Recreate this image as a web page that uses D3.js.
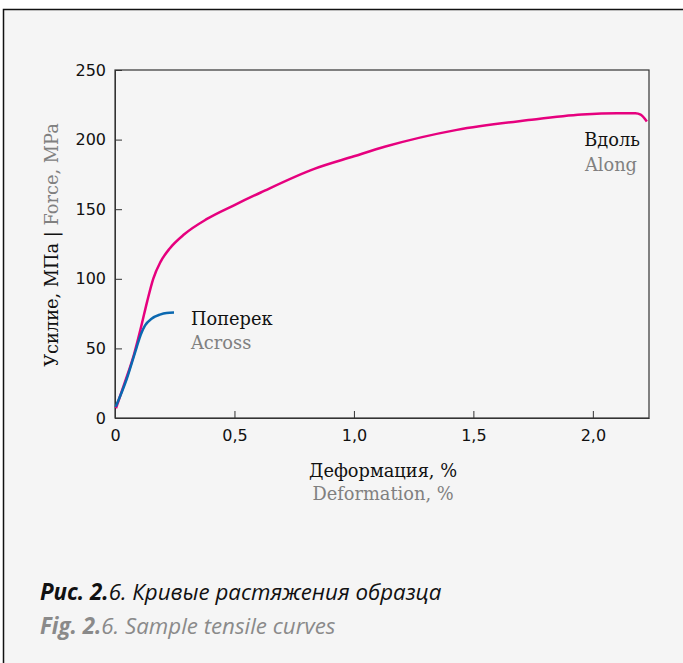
<!DOCTYPE html>
<html><head><meta charset="utf-8">
<script src="https://cdn.jsdelivr.net/npm/d3@7"></script>
<style>html,body{margin:0;padding:0;background:#fff;}svg{display:block;}</style>
</head><body>
<svg id="c" width="683" height="663"></svg>
<script>
// Data
const alongStrain = [0.004,0.04,0.08,0.11,0.135,0.16,0.19,0.23,0.29,0.385,0.5,0.61,0.834,1.0,1.132,1.431,1.73,1.954,2.1,2.178,2.2,2.226];
const alongStress = [7,25,46,66,84,100,112,122,132,143,153,162,179,188,195,207,214,218,219,219,218,213];
const acrossStrain = [0.003,0.049,0.091,0.108,0.126,0.153,0.188,0.216,0.247];
const acrossStress = [8,28,51,60,66.5,71.3,74.3,75.5,75.8];
const xTicks = [0,0.5,1.0,1.5,2.0];
const xTickLabels = ["0","0,5","1,0","1,5","2,0"];
const yTicks = [0,50,100,150,200,250];

const svg = d3.select("#c");
// frame
svg.append("rect").attr("x",3.5).attr("y",9.5).attr("width",700).attr("height",700)
  .attr("fill","#f5f5f5").attr("stroke","#111").attr("stroke-width",1.5);

const L=115,R=649,T=70,B=418;
const x = d3.scaleLinear().domain([0,2.235]).range([L,R]);
const y = d3.scaleLinear().domain([0,250]).range([B,T]);

// plot box
svg.append("rect").attr("x",L).attr("y",T).attr("width",R-L).attr("height",B-T)
  .attr("fill","none").attr("stroke","#333").attr("stroke-width",1.2);

const xa = svg.append("g").attr("transform",`translate(0,${B})`)
  .call(d3.axisBottom(x).tickValues(xTicks).tickSizeInner(-7).tickSizeOuter(0).tickPadding(12)
    .tickFormat((d,i)=>xTickLabels[i]));
const ya = svg.append("g").attr("transform",`translate(${L},0)`)
  .call(d3.axisLeft(y).tickValues(yTicks).tickSizeInner(-7).tickSizeOuter(0).tickPadding(9));
[xa,ya].forEach(g=>{
  g.select(".domain").attr("stroke","#333");
  g.selectAll(".tick line").attr("stroke","#333");
  g.selectAll("text").attr("font-family","DejaVu Sans").attr("font-size",16).attr("fill","#111");
});

const line = d3.line().x(d=>x(d[0])).y(d=>y(d[1])).curve(d3.curveMonotoneX);
const along = alongStrain.map((s,i)=>[s,alongStress[i]]);
const across = acrossStrain.map((s,i)=>[s,acrossStress[i]]);
svg.append("path").datum(along).attr("d",line).attr("fill","none").attr("stroke","#e6007e").attr("stroke-width",2.5);
svg.append("path").datum(across).attr("d",line).attr("fill","none").attr("stroke","#0a68b0").attr("stroke-width",2.5);

const serif = "DejaVu Serif";
const fs = 17.8;
function t(xp,yp,txt,opt){
  return svg.append("text").attr("x",xp).attr("y",yp).text(txt)
    .attr("font-family",opt.f||serif).attr("font-size",opt.s||fs).attr("fill",opt.c||"#111")
    .attr("text-anchor",opt.a||"start");
}
t(191,325,"Поперек",{});
t(191,349,"Across",{c:"#808080"});
t(640,146,"Вдоль",{a:"end"});
t(637,171,"Along",{a:"end",c:"#808080"});
t(383,477,"Деформация, %",{a:"middle"});
t(383,500,"Deformation, %",{a:"middle",c:"#808080"});

const yl = svg.append("text").attr("transform","translate(58,245) rotate(-90)")
  .attr("text-anchor","middle").attr("font-family",serif).attr("font-size",fs);
yl.append("tspan").attr("fill","#111").text("Усилие, МПа | ");
yl.append("tspan").attr("fill","#808080").text("Force, MPa");

const cs = 22.3;
const cap1 = svg.append("text").attr("x",40).attr("y",600).attr("font-family","Open Sans").attr("font-style","italic").attr("font-size",cs).attr("fill","#111");
cap1.append("tspan").attr("font-weight","bold").text("Рис. 2.");
cap1.append("tspan").text("6. Кривые растяжения образца");
const cap2 = svg.append("text").attr("x",40).attr("y",634).attr("font-family","Open Sans").attr("font-style","italic").attr("font-size",cs).attr("fill","#8a8a8a");
cap2.append("tspan").attr("font-weight","bold").text("Fig. 2.");
cap2.append("tspan").text("6. Sample tensile curves");
</script>
</body></html>
